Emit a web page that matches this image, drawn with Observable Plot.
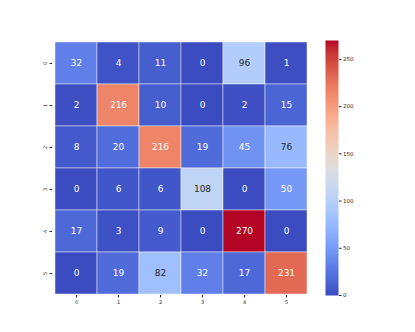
<!DOCTYPE html>
<html>
<head>
<meta charset="utf-8">
<script src="https://cdn.jsdelivr.net/npm/d3@7"></script>
<script src="https://cdn.jsdelivr.net/npm/@observablehq/plot@0.6"></script>
<style>
  html, body { margin: 0; padding: 0; background: #fff; }
  #wrap { position: relative; width: 415px; height: 332px; overflow: hidden; font-family: "DejaVu Sans", sans-serif; }
  #wrap svg { position: absolute; top: 0; }
</style>
</head>
<body>
<div id="wrap"></div>
<script>
// ---- data ----
const labels = ["0", "1", "2", "3", "4", "5"];
const row0 = [32, 4, 11, 0, 96, 1];
const row1 = [2, 216, 10, 0, 2, 15];
const row2 = [8, 20, 216, 19, 45, 76];
const row3 = [0, 6, 6, 108, 0, 50];
const row4 = [17, 3, 9, 0, 270, 0];
const row5 = [0, 19, 82, 32, 17, 231];
const colorTicks = [0, 50, 100, 150, 200, 250];
const colorMax = 270;

const rows = [row0, row1, row2, row3, row4, row5];
const table = [];
rows.forEach((r, i) => r.forEach((v, j) => table.push({row: labels[i], col: labels[j], value: v})));

// ---- coolwarm colormap ----
const coolwarmStops = [
  [59,76,192],[68,90,204],[77,104,215],[87,117,225],[98,130,234],[108,142,241],[119,154,247],[130,165,251],
  [141,176,254],[152,185,255],[163,194,255],[174,201,253],[184,208,249],[194,213,244],[204,217,238],[213,219,230],
  [221,221,221],[229,216,209],[236,211,197],[241,204,185],[245,196,173],[247,187,160],[247,177,148],[247,166,135],
  [244,154,123],[241,141,111],[236,127,99],[229,112,88],[222,96,77],[213,80,66],[203,62,56],[192,40,47],[180,4,38]
].map(([r,g,b]) => `rgb(${r},${g},${b})`);
const coolwarm = d3.piecewise(d3.interpolateRgb, coolwarmStops);
const colorOpts = {type: "linear", domain: [0, colorMax], interpolate: coolwarm};

function lum(c) {
  const col = d3.rgb(c);
  const f = v => { v /= 255; return v <= 0.03928 ? v / 12.92 : Math.pow((v + 0.055) / 1.055, 2.4); };
  return 0.2126 * f(col.r) + 0.7152 * f(col.g) + 0.0722 * f(col.b);
}
const isLight = d => lum(coolwarm(d.value / colorMax)) > 0.408;

const W = 320, H = 332;
const main = Plot.plot({
  width: W, height: H,
  marginLeft: 52, marginRight: 11, marginTop: 40, marginBottom: 37,
  style: {fontFamily: "DejaVu Sans, sans-serif", background: "transparent", color: "#262626"},
  x: {domain: labels, padding: 0, label: null},
  y: {domain: labels, padding: 0, label: null},
  color: colorOpts,
  marks: [
    Plot.cell(table, {x: "col", y: "row", fill: "value", stroke: "white", strokeWidth: 0.6, strokeOpacity: 0.75}),
    Plot.text(table, {x: "col", y: "row", text: d => String(d.value), filter: d => !isLight(d), fill: "white", fontSize: 9}),
    Plot.text(table, {x: "col", y: "row", text: d => String(d.value), filter: d => isLight(d), fill: "#262626", fontSize: 9}),
    Plot.axisX({anchor: "bottom", tickSize: 2.5, tickPadding: 2, fontSize: 5, label: null}),
    Plot.axisY({anchor: "left", tickSize: 2.5, tickPadding: 3, fontSize: 5, tickRotate: -90, label: null})
  ]
});
main.style.left = "0px";

const bar = Plot.plot({
  width: 95, height: H,
  marginLeft: 5, marginRight: 77, marginTop: 40, marginBottom: 37,
  style: {fontFamily: "DejaVu Sans, sans-serif", background: "transparent", color: "#262626"},
  x: {domain: [0, 1], axis: null},
  y: {domain: [0, colorMax], label: null},
  color: colorOpts,
  marks: [
    Plot.raster({fill: (x, y) => y, x1: 0, x2: 1, y1: 0, y2: colorMax, width: 1, height: 540, imageRendering: "auto"}),
    Plot.axisY({anchor: "right", ticks: colorTicks, tickSize: 2.5, tickPadding: 2, fontSize: 5.5, label: null})
  ]
});
bar.style.left = "320px";

const wrap = document.getElementById("wrap");
wrap.appendChild(main);
wrap.appendChild(bar);
</script>
</body>
</html>
